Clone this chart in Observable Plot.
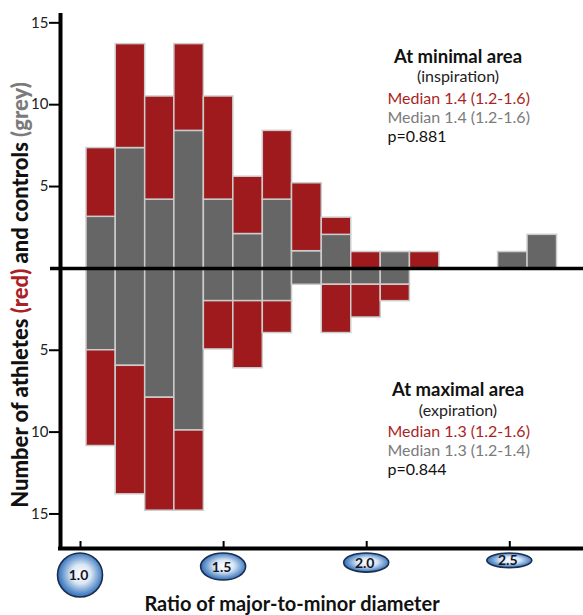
<!DOCTYPE html>
<html>
<head>
<meta charset="utf-8">
<script src="https://cdn.jsdelivr.net/npm/d3@7"></script>
<script src="https://cdn.jsdelivr.net/npm/@observablehq/plot@0.6"></script>
<style>
  html, body { margin: 0; padding: 0; background: #fff; }
</style>
</head>
<body>
<div id="chart"></div>
<script>
// ---- data ----
// bin edges of the histogram, in ratio units as read against the x axis
const binEdges = [1.021, 1.123, 1.226, 1.328, 1.431, 1.534, 1.637, 1.739, 1.843,
                  1.946, 2.049, 2.151, 2.254, 2.357, 2.459, 2.562, 2.665];
// at minimal area (inspiration) – drawn upward
const controlsInsp = [3.15, 7.35, 4.2, 8.4, 4.2, 2.1, 4.2, 1.05, 2.05, 0, 1.0, 0, 0, 0, 1.0, 2.05];
const athletesInsp = [4.2, 6.35, 6.3, 5.3, 6.3, 3.5, 4.2, 4.15, 1.05, 1.0, 0, 1.0, 0, 0, 0, 0];
// at maximal area (expiration) – drawn downward
const controlsExp = [5, 5.95, 7.9, 9.9, 2, 2, 2, 1, 1, 1, 1, 0, 0, 0, 0, 0];
const athletesExp = [5.85, 7.85, 6.9, 4.9, 2.95, 4.1, 1.95, 0, 2.95, 2, 1, 0, 0, 0, 0, 0];

const xTicks = [1.0, 1.5, 2.0, 2.5];
const xTickLabels = ["1.0", "1.5", "2.0", "2.5"];
const yTicks = [-15, -10, -5, 5, 10, 15];

const groups = ["athletes", "controls"];
const groupColors = ["#9e1a1d", "#666666"];

const inspText = ["At minimal area", "(inspiration)", "Median 1.4 (1.2-1.6)", "Median 1.4 (1.2-1.6)", "p=0.881"];
const expText = ["At maximal area", "(expiration)", "Median 1.3 (1.2-1.6)", "Median 1.3 (1.2-1.4)", "p=0.844"];
const yTitleParts = ["Number of athletes ", "(red)", " and controls ", "(grey)"];
const xTitle = "Ratio of major-to-minor diameter";

// ---- build table ----
const rows = [];
for (let i = 0; i < binEdges.length - 1; i++) {
  const x1 = binEdges[i], x2 = binEdges[i + 1];
  if (controlsInsp[i] > 0) rows.push({x1, x2, y1: 0, y2: controlsInsp[i], group: "controls"});
  if (athletesInsp[i] > 0) rows.push({x1, x2, y1: controlsInsp[i], y2: controlsInsp[i] + athletesInsp[i], group: "athletes"});
  if (controlsExp[i] > 0) rows.push({x1, x2, y1: 0, y2: -controlsExp[i], group: "controls"});
  if (athletesExp[i] > 0) rows.push({x1, x2, y1: -controlsExp[i], y2: -controlsExp[i] - athletesExp[i], group: "athletes"});
}

// ---- layout ----
const W = 583, H = 615;
const mLeft = 60, mRight = 0, mTop = 13, mBottom = 67;
const xDomain = [0.9301, 2.7575];
const yDomain = [-17.11, 15.57];
const frameH = H - mTop - mBottom;

const RED_TXT = "#ab1f26", GREY_TXT = "#7b7b7b";

function annotLines(lines, centers) {
  const marks = [];
  lines.forEach((t, i) => {
    const common = {frameAnchor: "top-left", lineAnchor: "middle", dy: centers[i] - mTop};
    if (i === 0) marks.push(Plot.text([t], {...common, dx: 397.5, textAnchor: "middle", fontWeight: "bold", fontSize: 18.5, fill: "#111"}));
    else if (i === 1) marks.push(Plot.text([t], {...common, dx: 397.5, textAnchor: "middle", fontSize: 16, fill: "#222"}));
    else marks.push(Plot.text([t], {...common, dx: 327, textAnchor: "start", fontSize: 16,
      fill: i === 2 ? RED_TXT : i === 3 ? GREY_TXT : "#111"}));
  });
  return marks;
}

const bubbleMark = (index, scales, values, dims) => {
  const g = d3.create("svg:g");
  const defs = g.append("defs");
  const grad = defs.append("radialGradient").attr("id", "bubbleGrad")
    .attr("cx", "52%").attr("cy", "48%").attr("r", "55%");
  grad.append("stop").attr("offset", "0%").attr("stop-color", "#ffffff");
  grad.append("stop").attr("offset", "40%").attr("stop-color", "#dbe7f4");
  grad.append("stop").attr("offset", "78%").attr("stop-color", "#5d91cc");
  grad.append("stop").attr("offset", "100%").attr("stop-color", "#2a63ab");
  const top = dims.height - dims.marginBottom + 5;
  xTicks.forEach((t, i) => {
    const cx = scales.x(t);
    const rx = 22.5, ry = 22 / Math.pow(t, 1.2);
    const cy = top + ry;
    g.append("ellipse").attr("cx", cx).attr("cy", cy).attr("rx", rx).attr("ry", ry)
      .attr("fill", "url(#bubbleGrad)").attr("stroke", "#1c2d4f").attr("stroke-width", 1.6);
    g.append("text").attr("x", cx - 1.5).attr("y", cy).attr("dy", "0.36em")
      .attr("text-anchor", "middle").attr("font-weight", "bold").attr("font-size", 14)
      .attr("fill", "#15151f").text(xTickLabels[i]);
  });
  return g.node();
};

const yTitleMark = (index, scales, values, dims) => {
  const t = d3.create("svg:text")
    .attr("transform", "translate(27.5,295) rotate(-90)")
    .attr("text-anchor", "middle").attr("font-weight", "900").attr("font-size", 22)
    .attr("fill", "#111");
  const cols = ["#111", RED_TXT, "#111", GREY_TXT];
  yTitleParts.forEach((p, i) => t.append("tspan").attr("fill", cols[i]).text(p));
  t.style("white-space", "pre");
  return t.node();
};

const plot = Plot.plot({
  width: W, height: H,
  marginLeft: mLeft, marginRight: mRight, marginTop: mTop, marginBottom: mBottom,
  style: {fontFamily: "Lato, sans-serif", background: "#fff", overflow: "visible"},
  x: {domain: xDomain, axis: null},
  y: {domain: yDomain, axis: null},
  color: {domain: groups, range: groupColors},
  marks: [
    Plot.rect(rows, {x1: "x1", x2: "x2", y1: "y1", y2: "y2", fill: "group", stroke: "#cccccc", strokeWidth: 1.5}),
    Plot.ruleY([0], {stroke: "#000", strokeWidth: 3.5, insetLeft: -10}),
    Plot.ruleX([xDomain[0]], {stroke: "#000", strokeWidth: 4}),
    Plot.ruleY([yDomain[0]], {stroke: "#000", strokeWidth: 4, insetLeft: -2}),
    Plot.axisY(yTicks, {tickSize: 11, tickPadding: 1, fontSize: 15, strokeWidth: 2, stroke: "#000", fill: "#222",
      tickFormat: d => String(Math.abs(d)), label: null}),
    Plot.tickX(xTicks, {x: d => d, insetTop: frameH - 7, stroke: "#000", strokeWidth: 2}),
    bubbleMark,
    yTitleMark,
    ...annotLines(inspText, [57, 76, 98, 117, 136]),
    ...annotLines(expText, [390, 410, 431, 450, 469]),
    Plot.text([xTitle], {frameAnchor: "bottom", lineAnchor: "middle", dx: -30, dy: 56, fontWeight: "bold", fontSize: 20, fill: "#111"})
  ]
});
document.getElementById("chart").appendChild(plot);
</script>
</body>
</html>
